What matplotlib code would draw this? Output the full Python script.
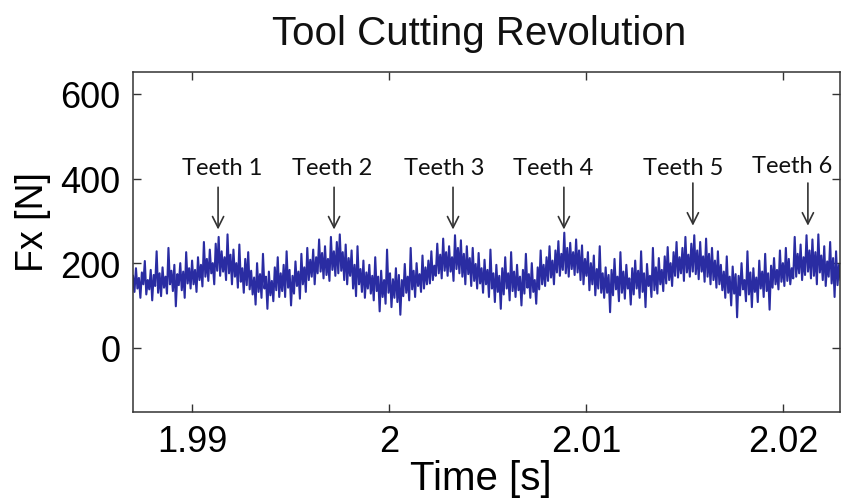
import numpy as np
import matplotlib
matplotlib.use("Agg")
import matplotlib.pyplot as plt
from matplotlib import font_manager

# ---------------- data ----------------
t_start = 1.9870      # s
t_step = 0.000075     # s
fx = [
    170, 132, 188, 140, 165, 118, 178, 150, 205, 126, 160, 138, 184, 112, 172, 146, 228, 130, 176, 122,
    190, 142, 168, 128, 236, 150, 182, 134, 196, 98, 174, 148, 200, 136, 180, 118, 226, 152, 188, 140,
    206, 150, 184, 132, 214, 160, 196, 145, 250, 168, 210, 158, 232, 176, 200, 150, 246, 182, 262, 170,
    228, 180, 214, 160, 268, 176, 220, 150, 232, 168, 200, 142, 244, 156, 188, 130, 210, 148, 226, 138,
    182, 126, 166, 102, 200, 132, 174, 118, 222, 140, 168, 92, 180, 124, 158, 110, 190, 136, 214, 120,
    176, 134, 196, 120, 228, 142, 184, 100, 170, 128, 204, 146, 180, 116, 222, 150, 190, 132, 236, 160,
    208, 168, 232, 150, 214, 176, 256, 180, 224, 164, 240, 172, 210, 158, 262, 184, 228, 170, 250, 176,
    268, 182, 226, 160, 244, 150, 212, 170, 230, 140, 196, 122, 240, 150, 186, 132, 206, 118, 178, 140,
    196, 128, 170, 112, 214, 134, 168, 86, 182, 120, 160, 104, 232, 130, 176, 96, 162, 118, 188, 108,
    172, 78, 160, 122, 198, 130, 168, 112, 236, 138, 182, 120, 200, 146, 174, 132, 218, 140, 190, 150,
    206, 152, 228, 160, 194, 170, 246, 176, 220, 164, 258, 182, 226, 170, 240, 180, 214, 158, 266, 186,
    236, 176, 254, 168, 222, 150, 240, 174, 212, 146, 236, 158, 198, 140, 224, 152, 188, 130, 208, 150,
    184, 120, 232, 140, 176, 108, 196, 132, 170, 92, 188, 126, 214, 140, 176, 112, 226, 134, 180, 120,
    196, 136, 168, 100, 184, 128, 222, 142, 174, 118, 200, 132, 160, 104, 190, 138, 230, 150, 196, 146,
    214, 158, 240, 166, 206, 150, 230, 178, 252, 170, 222, 184, 272, 176, 236, 168, 248, 186, 226, 172,
    256, 178, 230, 160, 242, 150, 210, 170, 226, 136, 200, 150, 218, 124, 186, 140, 240, 130, 176, 118,
    190, 130, 172, 84, 184, 124, 210, 138, 168, 110, 226, 130, 180, 116, 196, 140, 164, 102, 188, 126,
    206, 140, 182, 118, 228, 132, 176, 96, 198, 146, 170, 120, 236, 136, 190, 128, 212, 150, 184, 134,
    216, 152, 238, 160, 200, 146, 226, 170, 250, 166, 214, 176, 236, 158, 262, 178, 220, 168, 246, 180,
    266, 174, 230, 162, 250, 180, 216, 156, 258, 168, 222, 150, 236, 160, 206, 142, 228, 150, 196, 136,
    180, 118, 216, 130, 168, 100, 192, 128, 174, 72, 170, 124, 200, 138, 160, 110, 228, 126, 178, 96,
    188, 132, 166, 108, 206, 140, 180, 120, 222, 134, 176, 90, 194, 142, 212, 150, 184, 138, 230, 156,
    200, 146, 236, 158, 210, 150, 188, 164, 262, 168, 222, 176, 244, 160, 214, 172, 266, 180, 230, 164,
    256, 170, 226, 150, 268, 178, 218, 160, 240, 146, 204, 168, 250, 152, 212, 120, 228, 148, 196, 160,
    188,
]
time = t_start + t_step * np.arange(len(fx))

teeth_labels = ["Teeth 1", "Teeth 2", "Teeth 3", "Teeth 4", "Teeth 5", "Teeth 6"]
teeth_arrow_t = [1.99132, 1.99721, 2.00325, 2.00888, 2.01543, 2.02127]
teeth_label_t = [1.99152, 1.99711, 2.00279, 2.00832, 2.01492, 2.02046]
teeth_label_fx = [426, 426, 426, 426, 426, 431]
teeth_arrow_top = [386, 386, 386, 386, 396, 396]
teeth_arrow_tip = [273, 273, 273, 273, 282, 282]

x_ticks = [1.99, 2.00, 2.01, 2.02]
x_ticklabels = ["1.99", "2", "2.01", "2.02"]
y_ticks = [0, 200, 400, 600]
y_ticklabels = ["0", "200", "400", "600"]

# ---------------- fonts ----------------
names = {f.name for f in font_manager.fontManager.ttflist}
regular = "Liberation Sans"
callout = "Lato" if "Lato" in names else "Open Sans"

# ---------------- figure ----------------
W, H = 848, 502
fig = plt.figure(figsize=(W / 100, H / 100), dpi=100)
ax = fig.add_axes([133 / W, 1 - 413 / H, 707 / W, 340 / H])

ax.plot(time, fx, color="#2a2ca2", lw=1.5)

ax.set_xlim(1.9870, 2.0229)
ax.set_ylim(-152, 652)
ax.set_xticks(x_ticks)
ax.set_xticklabels(x_ticklabels, fontfamily=regular, fontsize=26)
ax.set_yticks(y_ticks)
ax.set_yticklabels(y_ticklabels, fontfamily=regular, fontsize=26)
ax.tick_params(direction="in", length=6, width=1.0, color="#333333",
               top=True, right=True, labeltop=False, labelright=False, pad=9)
for s in ax.spines.values():
    s.set_color("#333333")
    s.set_linewidth(1.1)

ax.set_xlabel("Time [s]", fontfamily=regular, fontsize=29)
ax.xaxis.set_label_coords(0.492, -0.195)
ax.xaxis.label.set_va("center")
ax.set_ylabel("Fx [N]", fontfamily=regular, fontsize=27)
ax.yaxis.set_label_coords(-0.1414, 0.562)
ax.yaxis.label.set_va("center")

fig.text(479 / W, 1 - 45 / H, "Tool Cutting Revolution", fontfamily=regular,
         fontsize=29, ha="center", va="baseline", color="#111111")

for lab, xa, xl, yl, ytop, ytip in zip(teeth_labels, teeth_arrow_t, teeth_label_t,
                                       teeth_label_fx, teeth_arrow_top, teeth_arrow_tip):
    ax.text(xl, yl, lab, fontfamily=callout, fontsize=17, ha="center", va="center",
            color="#111111")
    ax.annotate("", xy=(xa, ytip), xytext=(xa, ytop),
                arrowprops=dict(arrowstyle="->,head_length=0.8,head_width=0.4",
                                color="#333333", lw=1.2))

fig.savefig("out.png", dpi=100)
